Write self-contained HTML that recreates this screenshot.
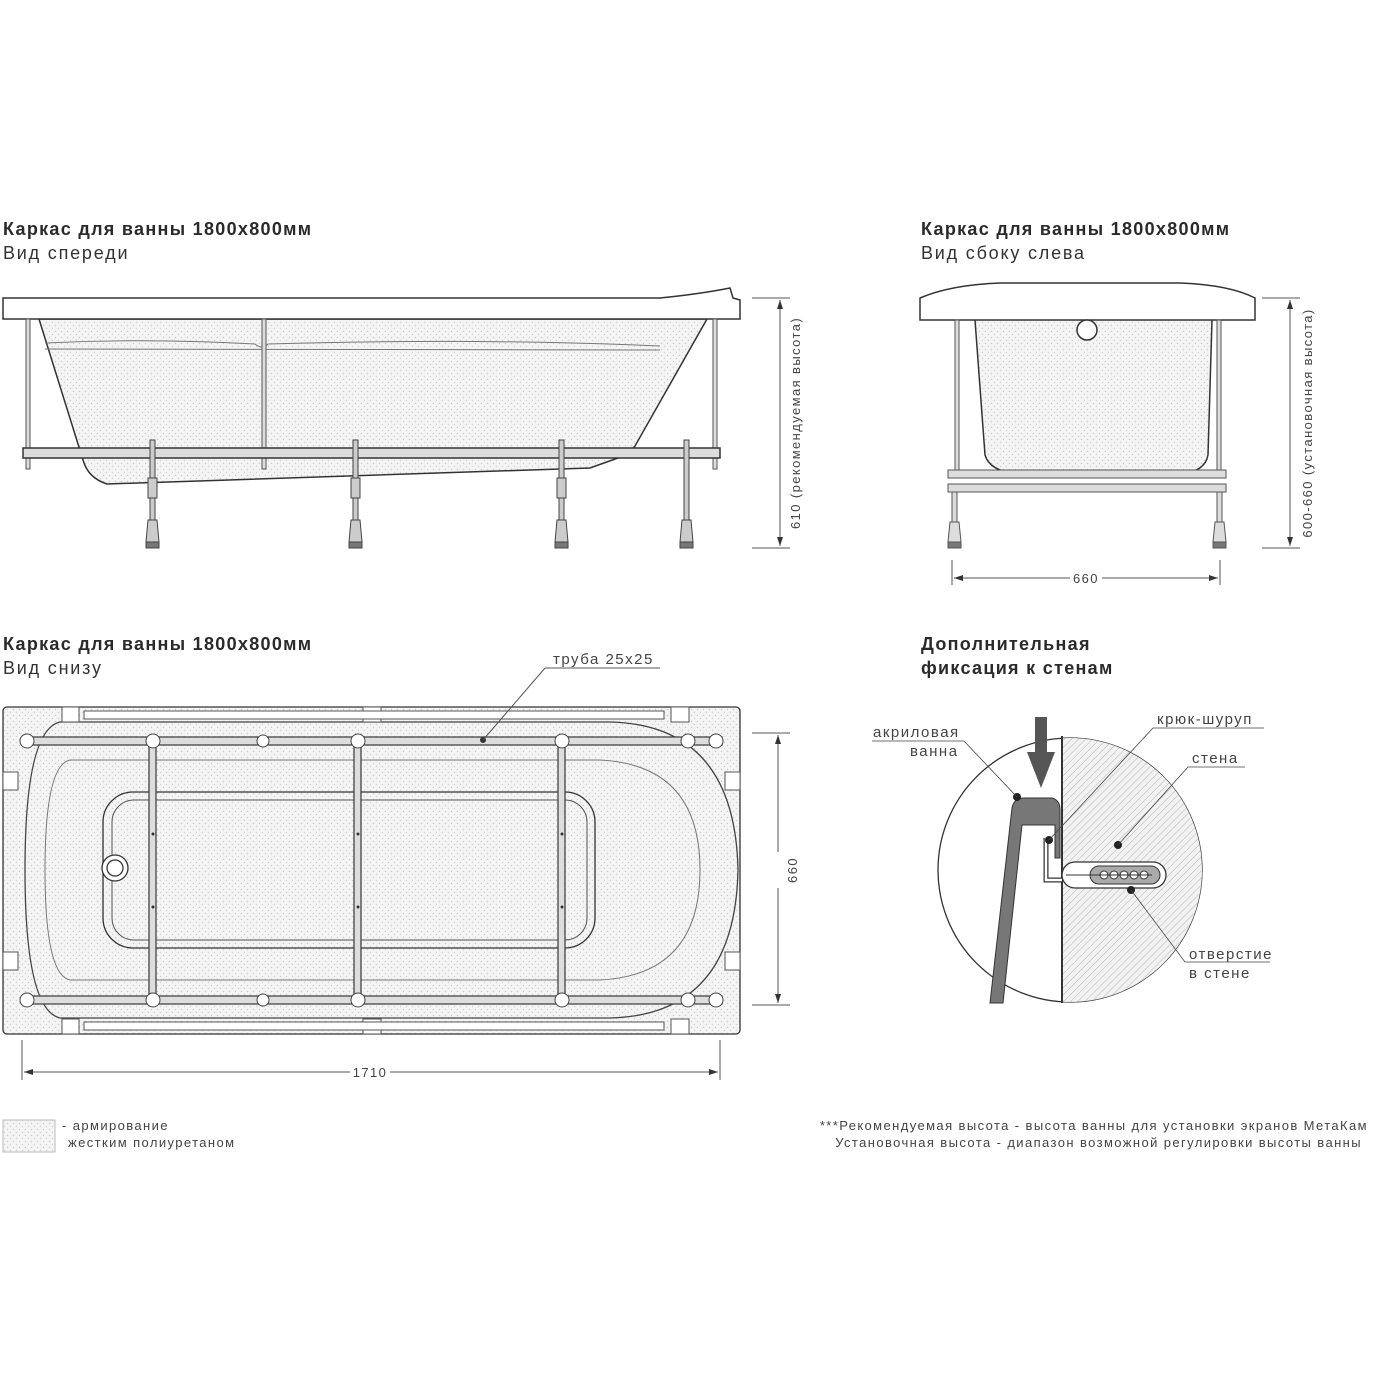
<!DOCTYPE html>
<html><head><meta charset="utf-8"><style>
html,body{margin:0;padding:0;background:#fff}
svg{display:block}
text{font-family:"Liberation Sans",sans-serif;fill:#333}
.h{font-weight:bold;font-size:18px;fill:#2a2a2a;letter-spacing:1.3px}
.s{font-size:18px;fill:#333;letter-spacing:1.8px}
.l{font-size:15px;fill:#444;letter-spacing:1.5px}
.n{font-size:13px;fill:#444;letter-spacing:1.4px}
</style></head><body>
<svg width="1376" height="1376" viewBox="0 0 1376 1376" xmlns="http://www.w3.org/2000/svg">
<defs>
<pattern id="dots" width="6" height="6" patternUnits="userSpaceOnUse">
<rect width="6" height="6" fill="#f4f4f4"/>
<circle cx="1.5" cy="1.5" r="0.7" fill="#c8c8c8"/><circle cx="4.5" cy="4.5" r="0.7" fill="#d0d0d0"/>
</pattern>
<pattern id="hatch" width="5" height="5" patternUnits="userSpaceOnUse" patternTransform="rotate(45)">
<rect width="5" height="5" fill="#f2f2f2"/><line x1="0" y1="0" x2="0" y2="5" stroke="#b5b5b5" stroke-width="1"/>
</pattern>
<clipPath id="circ"><circle cx="1070" cy="870" r="132"/></clipPath>
<marker id="ar" markerWidth="10" markerHeight="8" refX="9" refY="4" orient="auto"><path d="M0,1 L9,4 L0,7 Z" fill="#333"/></marker>
<marker id="al" markerWidth="10" markerHeight="8" refX="1" refY="4" orient="auto"><path d="M10,1 L1,4 L10,7 Z" fill="#333"/></marker>
</defs>

<!-- Titles -->
<text x="3" y="235" class="h">Каркас для ванны 1800x800мм</text>
<text x="3" y="259" class="s">Вид спереди</text>
<text x="921" y="235" class="h">Каркас для ванны 1800x800мм</text>
<text x="921" y="259" class="s">Вид сбоку слева</text>
<text x="3" y="650" class="h">Каркас для ванны 1800x800мм</text>
<text x="3" y="674" class="s">Вид снизу</text>
<text x="921" y="650" class="h">Дополнительная</text>
<text x="921" y="674" class="h">фиксация к стенам</text>

<!-- FRONT VIEW -->
<g stroke="#333" stroke-width="1.5">
<path d="M39,319 L83,460 Q88,478 107,484 L590,468 L618,458 Q630,452 635,446 L707,319 Z" fill="url(#dots)"/>
<path d="M45,343 Q150,338 255,344 Q262,350 268,344 Q480,338 660,346 M45,349 L660,350" fill="none" stroke="#777" stroke-width="1"/>
<path d="M3,298 L660,298 Q700,294 730,288 L733,298 L740,300 L740,319 L3,319 Z" fill="#fff"/>
<g fill="#ddd" stroke="#555" stroke-width="1">
<rect x="26" y="319" width="4" height="150"/><rect x="262" y="319" width="4" height="150"/><rect x="713" y="319" width="4" height="150"/>
</g>
<rect x="23" y="448" width="697" height="10" fill="#ddd" stroke-width="1.5"/>
<g fill="#ccc" stroke="#444" stroke-width="1">
<rect x="150" y="440" width="5" height="80"/><rect x="353" y="440" width="5" height="80"/><rect x="559" y="440" width="5" height="80"/><rect x="684" y="440" width="5" height="80"/>
<rect x="148" y="478" width="9" height="20"/><rect x="351" y="478" width="9" height="20"/><rect x="557" y="478" width="9" height="20"/>
<path d="M148,520 L157,520 L159,542 L146,542 Z"/><path d="M351,520 L360,520 L362,542 L349,542 Z"/><path d="M557,520 L566,520 L568,542 L555,542 Z"/><path d="M682,520 L691,520 L693,542 L680,542 Z"/>
<rect x="146" y="542" width="13" height="6" fill="#777"/><rect x="349" y="542" width="13" height="6" fill="#777"/><rect x="555" y="542" width="13" height="6" fill="#777"/><rect x="680" y="542" width="13" height="6" fill="#777"/>
</g>
</g>
<g stroke="#555" stroke-width="1"><line x1="752" y1="298" x2="790" y2="298"/><line x1="752" y1="548" x2="790" y2="548"/><line x1="780" y1="300" x2="780" y2="546" marker-start="url(#al)" marker-end="url(#ar)"/></g>
<text transform="translate(800,423) rotate(-90)" text-anchor="middle" class="n">610   (рекомендуемая высота)</text>

<!-- SIDE VIEW -->
<g stroke="#333" stroke-width="1.5">
<path d="M975,320 L985,455 Q990,472 1020,474 L1180,474 Q1205,472 1208,455 L1212,320" fill="url(#dots)"/>
<path d="M920,298 Q950,285 1000,283 L1180,283 Q1230,285 1255,298 L1255,320 L920,320 Z" fill="#fff"/>
<circle cx="1087" cy="330" r="10" fill="#fff"/>
<g fill="#ddd" stroke="#555" stroke-width="1">
<rect x="955" y="320" width="4" height="150"/><rect x="1217" y="320" width="4" height="150"/>
<rect x="948" y="470" width="278" height="8"/><rect x="948" y="484" width="278" height="8"/>
<rect x="952" y="492" width="5" height="30"/><rect x="1217" y="492" width="5" height="30"/>
<path d="M950,522 L959,522 L961,542 L948,542 Z"/><path d="M1215,522 L1224,522 L1226,542 L1213,542 Z"/>
<rect x="948" y="542" width="13" height="6" fill="#777"/><rect x="1213" y="542" width="13" height="6" fill="#777"/>
</g>
</g>
<g stroke="#555" stroke-width="1"><line x1="952" y1="560" x2="952" y2="585"/><line x1="1220" y1="560" x2="1220" y2="585"/><line x1="954" y1="578" x2="1218" y2="578" marker-start="url(#al)" marker-end="url(#ar)"/>
<line x1="1262" y1="298" x2="1300" y2="298"/><line x1="1262" y1="548" x2="1300" y2="548"/><line x1="1290" y1="300" x2="1290" y2="546" marker-start="url(#al)" marker-end="url(#ar)"/></g>
<rect x="1070" y="570" width="32" height="16" fill="#fff"/>
<text x="1086" y="583" text-anchor="middle" class="n">660</text>
<text transform="translate(1312,423) rotate(-90)" text-anchor="middle" class="n">600-660   (установочная высота)</text>

<!-- BOTTOM VIEW -->
<g stroke="#333" stroke-width="1.3">
<rect x="3" y="707" width="737" height="327" rx="4" fill="url(#dots)"/>
<path d="M60,722 L610,722 Q735,725 738,870 Q735,1015 610,1018 L60,1018 Q25,1010 25,870 Q25,730 60,722 Z" fill="none" stroke="#444"/>
<path d="M70,760 L600,760 Q700,765 700,870 Q700,975 600,980 L70,980 Q45,975 45,870 Q45,765 70,760 Z" fill="none" stroke="#777" stroke-width="1"/>
<rect x="103" y="792" width="492" height="156" rx="30" fill="none"/>
<rect x="112" y="800" width="475" height="140" rx="22" fill="none" stroke="#555" stroke-width="1"/>
<circle cx="115" cy="868" r="13" fill="#fff"/><circle cx="115" cy="868" r="8" fill="#fff"/>
<g fill="#fff" stroke="#555" stroke-width="1">
<rect x="62" y="707" width="17" height="15"/><rect x="363" y="707" width="18" height="15"/><rect x="671" y="707" width="18" height="15"/>
<rect x="62" y="1019" width="17" height="15"/><rect x="363" y="1019" width="18" height="15"/><rect x="671" y="1019" width="18" height="15"/>
<rect x="3" y="772" width="15" height="18"/><rect x="3" y="952" width="15" height="18"/><rect x="725" y="772" width="15" height="18"/><rect x="725" y="952" width="15" height="18"/>
<rect x="84" y="711" width="580" height="8"/><rect x="84" y="1022" width="580" height="8"/>
</g>
<g fill="#ddd" stroke="#444" stroke-width="1.3">
<rect x="22" y="737" width="700" height="8"/><rect x="22" y="996" width="700" height="8"/>
<rect x="149" y="741" width="7" height="259"/><rect x="354" y="741" width="7" height="259"/><rect x="558" y="741" width="7" height="259"/>
</g>
<g fill="#fff" stroke="#444" stroke-width="1">
<circle cx="27" cy="741" r="7"/><circle cx="153" cy="741" r="7"/><circle cx="263" cy="741" r="6"/><circle cx="358" cy="741" r="7"/><circle cx="562" cy="741" r="7"/><circle cx="688" cy="741" r="7"/><circle cx="716" cy="741" r="7"/>
<circle cx="27" cy="1000" r="7"/><circle cx="153" cy="1000" r="7"/><circle cx="263" cy="1000" r="6"/><circle cx="358" cy="1000" r="7"/><circle cx="562" cy="1000" r="7"/><circle cx="688" cy="1000" r="7"/><circle cx="716" cy="1000" r="7"/>
</g>
<g fill="#333" stroke="none"><circle cx="153" cy="834" r="1.5"/><circle cx="153" cy="907" r="1.5"/><circle cx="358" cy="834" r="1.5"/><circle cx="358" cy="907" r="1.5"/><circle cx="562" cy="834" r="1.5"/><circle cx="562" cy="907" r="1.5"/><circle cx="483" cy="740" r="3"/></g>
</g>
<g stroke="#555" stroke-width="1">
<line x1="483" y1="740" x2="545" y2="668"/><line x1="545" y1="668" x2="660" y2="668"/>
<line x1="752" y1="733" x2="790" y2="733"/><line x1="752" y1="1005" x2="790" y2="1005"/><line x1="778" y1="735" x2="778" y2="1003" marker-start="url(#al)" marker-end="url(#ar)"/>
<line x1="22" y1="1040" x2="22" y2="1080"/><line x1="720" y1="1040" x2="720" y2="1080"/><line x1="24" y1="1072" x2="718" y2="1072" marker-start="url(#al)" marker-end="url(#ar)"/>
</g>
<text x="553" y="664" class="l">труба 25х25</text>
<rect x="768" y="852" width="20" height="36" fill="#fff"/>
<text transform="translate(797,870) rotate(-90)" text-anchor="middle" class="n">660</text>
<rect x="350" y="1064" width="40" height="16" fill="#fff"/>
<text x="370" y="1077" text-anchor="middle" class="n">1710</text>

<!-- DETAIL -->
<circle cx="1070" cy="870" r="132" fill="#fff" stroke="#333" stroke-width="1.3"/>
<g clip-path="url(#circ)">
<rect x="1062" y="700" width="220" height="320" fill="url(#hatch)"/>
</g>
<line x1="1062" y1="736" x2="1062" y2="1003" stroke="#333" stroke-width="2"/>
<path d="M990,1003 L1012,808 Q1014,798 1024,798 L1052,798 Q1060,800 1060,810 L1060,858 L1055,858 L1055,825 L1022,825 L1003,1003 Z" fill="#777" stroke="#333" stroke-width="1"/>
<rect x="1035" y="717" width="12" height="35" fill="#555"/><path d="M1027,752 L1055,752 L1041,788 Z" fill="#555"/>
<path d="M1046,838 L1046,880 L1062,880" fill="none" stroke="#333" stroke-width="5"/>
<path d="M1046,838 L1046,880 L1062,880" fill="none" stroke="#fff" stroke-width="2.5"/>
<rect x="1062" y="862" width="104" height="26" rx="13" fill="#fff" stroke="#333" stroke-width="1.3"/>
<rect x="1090" y="866" width="70" height="18" rx="9" fill="#aaa" stroke="#333"/>
<g fill="#fff" stroke="#333" stroke-width="1"><circle cx="1104" cy="875" r="4"/><circle cx="1114" cy="875" r="4"/><circle cx="1124" cy="875" r="4"/><circle cx="1134" cy="875" r="4"/><circle cx="1144" cy="875" r="4"/></g>
<line x1="1066" y1="875" x2="1152" y2="875" stroke="#333" stroke-width="1"/>
<g fill="#222"><circle cx="1017" cy="797" r="4"/><circle cx="1049" cy="840" r="4"/><circle cx="1118" cy="845" r="4"/><circle cx="1131" cy="890" r="4"/></g>
<g stroke="#444" stroke-width="0.8" fill="none">
<polyline points="872,741 964,741 1017,797"/>
<polyline points="1049,840 1153,728 1264,728"/>
<polyline points="1118,845 1188,767 1245,767"/>
<polyline points="1131,890 1185,962 1270,962"/>
</g>
<text x="873" y="737" class="l">акриловая</text>
<text x="910" y="756" class="l">ванна</text>
<text x="1157" y="724" class="l">крюк-шуруп</text>
<text x="1192" y="763" class="l">стена</text>
<text x="1189" y="959" class="l">отверстие</text>
<text x="1189" y="978" class="l">в стене</text>

<!-- LEGEND -->
<rect x="3" y="1120" width="52" height="32" fill="url(#dots)" stroke="#bbb"/>
<text x="62" y="1130" class="n">- армирование</text>
<text x="68" y="1147" class="n">жестким полиуретаном</text>
<text x="1368" y="1130" text-anchor="end" class="n">***Рекомендуемая высота - высота ванны для установки экранов МетаКам</text>
<text x="1362" y="1147" text-anchor="end" class="n">Установочная высота - диапазон возможной регулировки высоты ванны</text>
</svg>
</body></html>
